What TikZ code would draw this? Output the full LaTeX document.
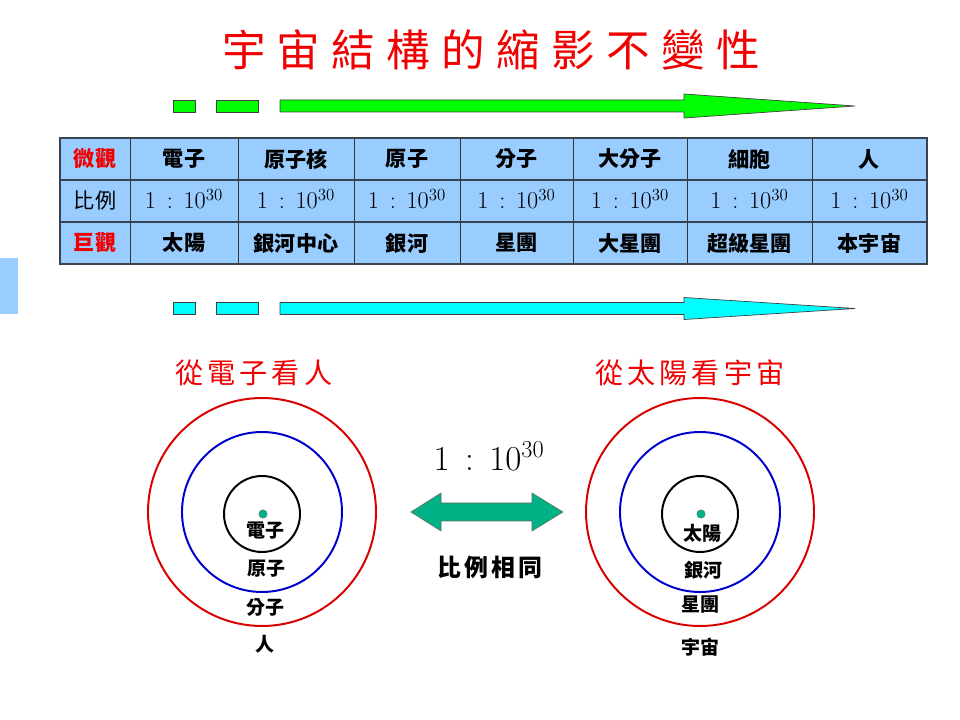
\documentclass[tikz,border=0pt]{standalone}
\usepackage{fontspec}
\usepackage{amsmath}
\newfontfamily\cjk{Noto Sans CJK TC}
\newfontfamily\cjkwide[LetterSpace=26]{Noto Sans CJK TC}
\newfontfamily\cjkmid[LetterSpace=14]{Noto Sans CJK TC}
\usetikzlibrary{positioning}
\definecolor{cellblue}{HTML}{99CCFF}
\definecolor{titlered}{HTML}{F00000}
\definecolor{arrowgreen}{HTML}{00FF00}
\definecolor{arrowcyan}{HTML}{00FFFF}
\definecolor{teal30}{HTML}{00B386}
\definecolor{gridline}{HTML}{3A4450}
\tikzset{
  title/.style={text=titlered, font=\cjkwide\fontsize{31}{36}\selectfont, inner sep=0pt},
  subtitle/.style={text=titlered, font=\cjkmid\fontsize{20}{24}\selectfont, inner sep=0pt},
  cell/.style={font=\cjk\bfseries\fontsize{15}{18}\selectfont, inner sep=0pt},
  ratio/.style={font=\fontsize{18}{21}\selectfont, inner sep=0pt},
  ring/.style={font=\cjk\bfseries\fontsize{13.5}{16}\selectfont, inner sep=0pt},
  band/.style={draw=black!75, line width=0.5pt},
  orbit/.style={line width=1.4pt},
  core/.style={circle, fill=teal30, draw=black!60, line width=0.3pt, minimum size=6pt, inner sep=0pt}
}
% dashed band arrow: #1 = centre y, #2 = fill colour, #3 = head half width
\newcommand{\bandarrow}[3]{
    \draw[band, fill=#2] (173,#1-6) rectangle (195,#1+6);
    \draw[band, fill=#2] (216,#1-6) rectangle (258,#1+6);
    \draw[band, fill=#2] (280,#1-6) -- (684,#1-6) -- (684,#1-#3) -- (855,#1)
        -- (684,#1+#3) -- (684,#1+6) -- (280,#1+6) -- cycle;
}

\begin{document}
\begin{tikzpicture}[x=0.025cm, y=-0.025cm]
    \useasboundingbox (0,0) rectangle (960,720);

    % 1. Title
    \node[title] (titulo) at (491,50) {宇宙結構的縮影不變性};

    % side tab
    \fill[cellblue] (0,258) rectangle (18,314);

    % 2. Band arrows
    \bandarrow{106}{arrowgreen}{12}
    \bandarrow{308.5}{arrowcyan}{11}

    % 3. Table
    \fill[cellblue] (60,138) rectangle (927,264);
    \foreach \x in {130,238,354,460,573,687,812} {
        \draw[black!80, line width=0.5pt] (\x,138) -- (\x,264);
    }
    \foreach \y in {180,222} {
        \draw[gridline, line width=1.2pt] (60,\y) -- (927,\y);
    }
    \draw[gridline, line width=1pt] (60,138) rectangle (927,264);

    \node[cell, text=titlered] (micro) at (95,159) {微觀};
    \node[cell, font=\cjk\fontsize{15}{18}\selectfont] (escala) at (95,201) {比例};
    \node[cell, text=titlered] (macro) at (95,243) {巨觀};
    \foreach \i/\x/\small/\big in {
        1/184/電子/太陽, 2/296/原子核/銀河中心, 3/407/原子/銀河,
        4/516.5/分子/星團, 5/630/大分子/大星團, 6/749.5/細胞/超級星團,
        7/869.5/人/本宇宙
    } {
        \node[cell] (m\i) at (\x,159) {\small};
        \node[ratio] (r\i) at (\x,199) {$1\,:\,10^{30}$};
        \node[cell] (g\i) at (\x,243) {\big};
    }

    % 4. Left rings
    \node[subtitle] (izq) at (254,373) {從電子看人};
    \draw[orbit, red!85!black] (262,512) circle (114);
    \draw[orbit, blue!80!black] (262,512) circle (80);
    \draw[orbit, black] (262,514) circle (38);
    \node[core] (e) at (263,514) {};
    \node[ring] (l1) at (265,531) {電子};
    \node[ring] (l2) at (266,569) {原子};
    \node[ring] (l3) at (265,608) {分子};
    \node[ring] (l4) at (265,644) {人};

    % 5. Right rings
    \node[subtitle] (der) at (690,373) {從太陽看宇宙};
    \draw[orbit, red!85!black] (700,512) circle (114);
    \draw[orbit, blue!80!black] (700,512) circle (80);
    \draw[orbit, black] (700,514) circle (38);
    \node[core] (s) at (701,514) {};
    \node[ring] (d1) at (702,533) {太陽};
    \node[ring] (d2) at (703,570) {銀河};
    \node[ring] (d3) at (700,605) {星團};
    \node[ring] (d4) at (700,647) {宇宙};

    % 6. Same ratio
    \node[font=\fontsize{25}{30}\selectfont, inner sep=0pt] (razon) at (489,456) {$1\,:\,10^{30}$};
    \draw[fill=teal30, draw=black!60, line width=0.4pt] (411,512) -- (441,493) -- (441,503)
        -- (532,503) -- (532,493) -- (563,512) -- (532,531) -- (532,521)
        -- (441,521) -- (441,531) -- cycle;
    \node[font=\cjkmid\bfseries\fontsize{17}{20}\selectfont, inner sep=0pt] (igual) at (490,567) {比例相同};
\end{tikzpicture}
\end{document}
